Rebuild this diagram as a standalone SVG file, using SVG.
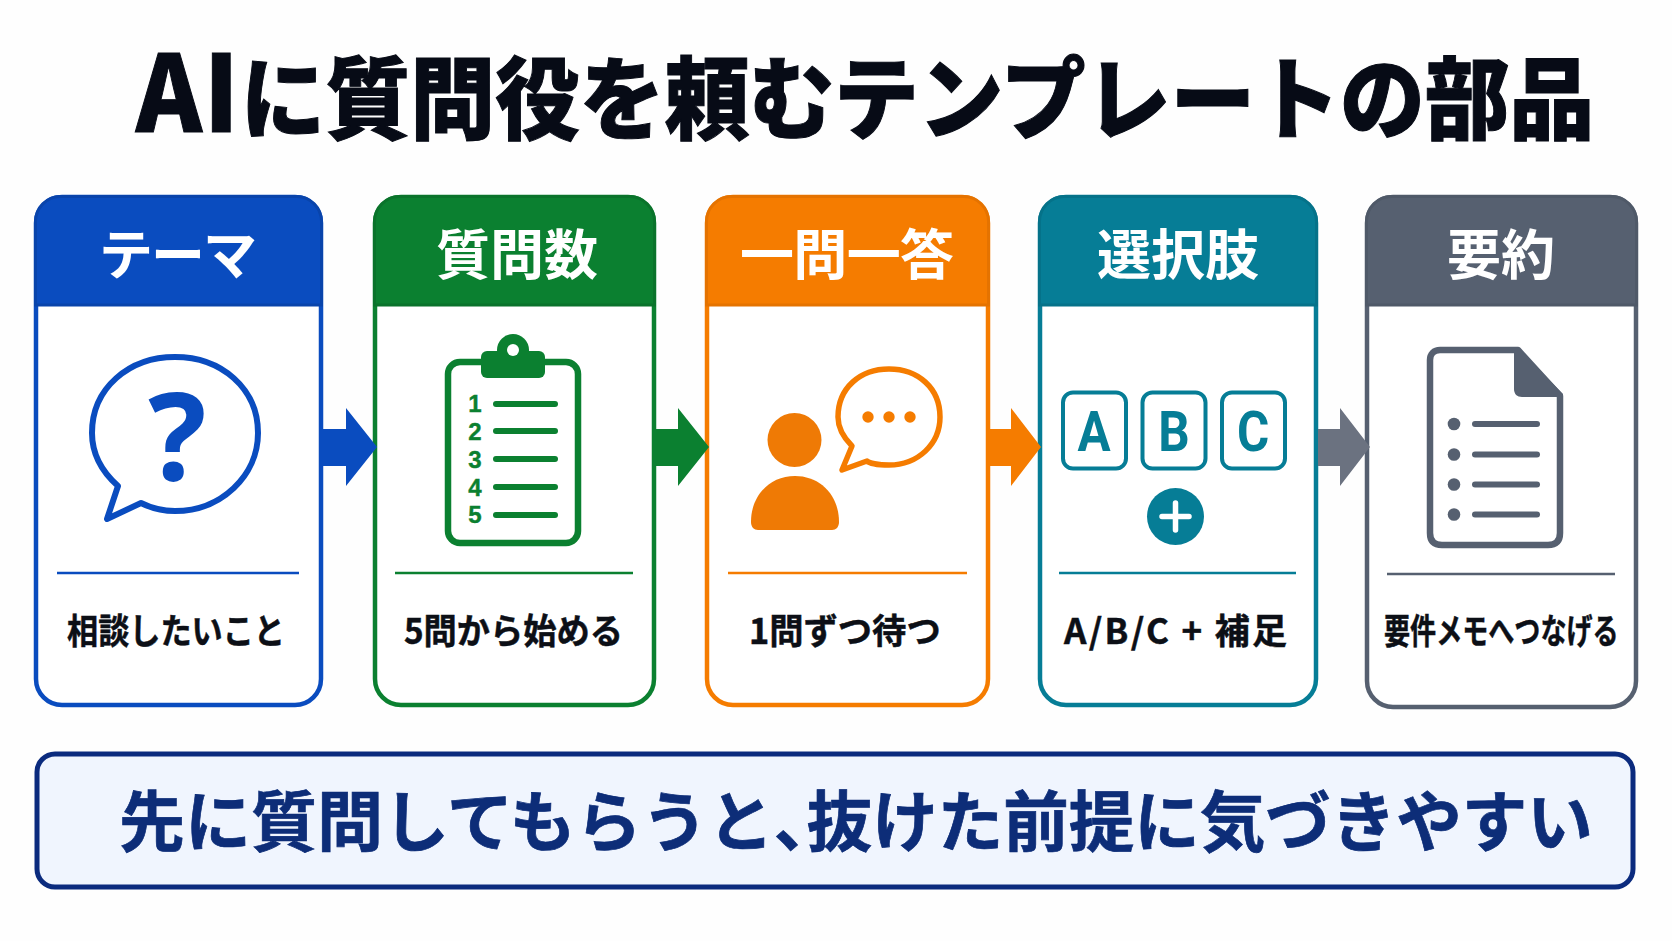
<svg xmlns="http://www.w3.org/2000/svg" width="1672" height="941" viewBox="0 0 1672 941">
<style>
text{font-family:"Noto Sans CJK JP","Noto Sans",sans-serif;font-weight:700}
.title{font-size:90px;font-weight:900;fill:#070b16;stroke:#070b16;stroke-width:1}
.head{font-size:54px;font-weight:700;fill:#fff;text-anchor:middle}
.sub{font-size:35px;fill:#0c0f16;stroke:#0c0f16;stroke-width:.5}
.ban{font-size:66px;fill:#0d2d78;stroke:#0d2d78;stroke-width:.7}
.card{fill:#fff;stroke-width:4.5}
.hd{stroke-width:3}
.blue{stroke:#0a4cbf}.green{stroke:#0b8030}.orange{stroke:#f57c00}.teal{stroke:#067d96}.gray{stroke:#566070}
.fblue{fill:#0a4cbf}.fgreen{fill:#0b8030}.forange{fill:#f57c00}.fteal{fill:#067d96}.fgray{fill:#566070}
.div{stroke-width:2.5;fill:none}
.ic{fill:none;stroke-linejoin:round;stroke-linecap:round}
.num{font-size:24px;fill:#0b8030;text-anchor:middle;font-family:"Liberation Sans",sans-serif;stroke:#0b8030;stroke-width:.4}
.abc{font-size:56px;fill:#067d96;text-anchor:middle;font-family:"Roboto","Liberation Sans",sans-serif;font-weight:700}
</style>
<rect width="1672" height="941" fill="#fefefe"/>
<text id="title" class="title" transform="translate(136 132) scale(.942 1)"><tspan font-size="106" letter-spacing="2">AI</tspan>に質問役を頼むテンプレートの部品</text>

<g id="node-theme">
<rect class="card blue" x="36" y="197" width="285" height="508" rx="26"/>
<path class="fblue hd" stroke="#0944ab" d="M35.500 305V221A25 25 0 0 1 60 196.500H297A25 25 0 0 1 321.500 221V305Z"/>
<text class="head" x="178" y="275" textLength="158">テーマ</text>
<path class="ic blue" stroke-width="6" d="M118 486C100 470 92 452 92 433C92 388 129 357 175 357C221 357 258 388 258 433C258 476 221 511 175 511C163 511 151 508 141 503L107 519Z"/>
<text x="177" y="480" font-size="122" text-anchor="middle" class="fblue" style="font-family:'Noto Sans',sans-serif">?</text>
<line class="div blue" x1="57" y1="573" x2="299" y2="573"/>
<text class="sub" transform="translate(67 644) scale(.89 1)">相談したいこと</text>
</g>

<g id="node-count">
<rect class="card green" x="375" y="197" width="279" height="508" rx="26"/>
<path class="fgreen hd" stroke="#0a732b" d="M374.500 305V221A25 25 0 0 1 399 196.500H630A25 25 0 0 1 654.500 221V305Z"/>
<text class="head" x="517" y="275" textLength="162">質問数</text>
<rect class="ic green" stroke-width="6.500" x="448" y="362" width="130" height="181" rx="12"/>
<circle class="fgreen" cx="513" cy="350" r="16"/>
<rect class="fgreen" x="481" y="351" width="64" height="27" rx="6"/>
<circle cx="513" cy="350" r="6" fill="#fff"/>
<text class="num" x="475" y="412">1</text><text class="num" x="475" y="440">2</text><text class="num" x="475" y="468">3</text><text class="num" x="475" y="496">4</text><text class="num" x="475" y="523">5</text>
<g class="ic green" stroke-width="6">
<line x1="496" y1="404" x2="555" y2="404"/><line x1="496" y1="431" x2="555" y2="431"/><line x1="496" y1="459" x2="555" y2="459"/><line x1="496" y1="487" x2="555" y2="487"/><line x1="496" y1="515" x2="555" y2="515"/>
</g>
<line class="div green" x1="395" y1="573" x2="633" y2="573"/>
<text class="sub" transform="translate(404 644) scale(.95 1)">5問から始める</text>
</g>

<g id="node-oneqa">
<rect class="card orange" x="707" y="197" width="281" height="508" rx="26"/>
<path class="forange hd" stroke="#e57300" d="M706.500 305V221A25 25 0 0 1 731 196.500H964A25 25 0 0 1 988.500 221V305Z"/>
<text class="head" x="847" y="275" textLength="214">一問一答</text>
<circle cx="794.500" cy="440" r="27" fill="#ef7a05"/>
<path fill="#ef7a05" d="M751 522C751 495 770 476 795 476C820 476 839 495 839 522C839 527 836 530 832 530H758C754 530 751 527 751 522Z"/>
<path class="ic orange" stroke-width="5.500" d="M852 446C842 436 838 427 838 417C838 388 860 369 889 369C918 369 940 388 940 417C940 444 918 465 889 465C878 465 869 463 867 461L842 470Z"/>
<circle class="forange" cx="868" cy="417" r="5.700"/><circle class="forange" cx="889" cy="417" r="5.700"/><circle class="forange" cx="910" cy="417" r="5.700"/>
<line class="div orange" x1="728" y1="573" x2="967" y2="573"/>
<text class="sub" transform="translate(749 644) scale(.98 1)">1問ずつ待つ</text>
</g>

<g id="node-options">
<rect class="card teal" x="1040" y="197" width="276" height="508" rx="26"/>
<path class="fteal hd" stroke="#057289" d="M1039.500 305V221A25 25 0 0 1 1064 196.500H1292A25 25 0 0 1 1316.500 221V305Z"/>
<text class="head" x="1178" y="275" textLength="162">選択肢</text>
<rect class="ic teal" stroke-width="4" x="1063" y="392.500" width="63" height="76" rx="10"/>
<rect class="ic teal" stroke-width="4" x="1142.500" y="392.500" width="63" height="76" rx="10"/>
<rect class="ic teal" stroke-width="4" x="1222" y="392.500" width="63" height="76" rx="10"/>
<text class="abc" transform="translate(1094 451) scale(.88 1)">A</text><text class="abc" transform="translate(1174 451) scale(.88 1)">B</text><text class="abc" transform="translate(1253 451) scale(.88 1)">C</text>
<circle class="fteal" cx="1175.500" cy="516.500" r="28.500"/>
<path class="ic" stroke="#fff" stroke-width="5.500" d="M1162 516.500H1189M1175.500 503V530"/>
<line class="div teal" x1="1059" y1="573" x2="1296" y2="573"/>
<text class="sub" x="1064" y="644" textLength="223">A/B/C + 補足</text>
</g>

<g id="node-summary">
<rect class="card gray" x="1367" y="197" width="269" height="510" rx="26"/>
<path class="fgray hd" stroke="#4f5968" d="M1366.500 305V221A25 25 0 0 1 1391 196.500H1612A25 25 0 0 1 1636.500 221V305Z"/>
<text class="head" x="1501" y="275" textLength="108">要約</text>
<path class="ic gray" stroke-width="6.500" d="M1440 350H1518L1560 396V533C1560 541 1556 545 1548 545H1442C1434 545 1430 541 1430 533V360C1430 354 1434 350 1440 350Z"/>
<path class="fgray" d="M1514 350H1520L1563 394V397H1522C1517 397 1514 394 1514 389Z"/>
<circle class="fgray" cx="1454" cy="424" r="6.300"/><circle class="fgray" cx="1454" cy="454.500" r="6.300"/><circle class="fgray" cx="1454" cy="484.500" r="6.300"/><circle class="fgray" cx="1454" cy="514.500" r="6.300"/>
<g class="ic gray" stroke-width="6">
<line x1="1475" y1="424" x2="1537" y2="424"/><line x1="1475" y1="454.500" x2="1537" y2="454.500"/><line x1="1475" y1="484.500" x2="1537" y2="484.500"/><line x1="1475" y1="514.500" x2="1537" y2="514.500"/>
</g>
<line class="div gray" x1="1387" y1="574" x2="1615" y2="574"/>
<text class="sub" transform="translate(1384 644) scale(.745 1)">要件メモへつなげる</text>
</g>

<g id="connectors">
<path class="fblue" d="M322 429H346V408L377 447L346 486V466H322Z"/>
<path class="fgreen" d="M656 429H678V408L709 447L678 486V466H656Z"/>
<path class="forange" d="M990 429H1011V408L1041 447L1011 486V466H990Z"/>
<path fill="#6b7280" d="M1318 429H1340V408L1370 447L1340 486V466H1318Z"/>
</g>

<g id="banner">
<rect x="37" y="754" width="1596" height="133" rx="18" fill="#f0f5fe" stroke="#0b2b7e" stroke-width="5"/>
<text class="ban" x="119" y="846">先に質問してもらうと<tspan style="font-feature-settings:'halt'">、</tspan><tspan font-size="65.500">抜けた前提に気づきやすい</tspan></text>
</g>
</svg>
